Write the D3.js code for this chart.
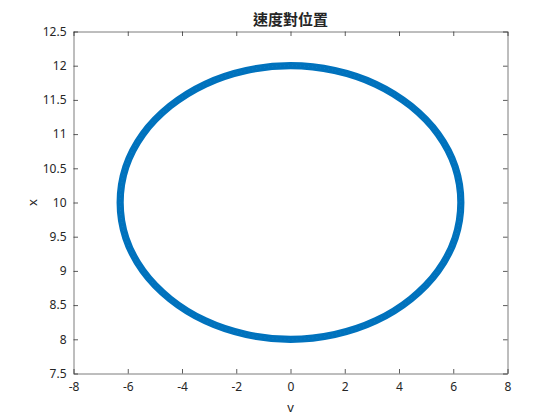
<!DOCTYPE html>
<html>
<head>
<meta charset="utf-8">
<script src="https://cdn.jsdelivr.net/npm/d3@7"></script>
<style>
  html, body { margin: 0; padding: 0; background: #ffffff; }
  svg { display: block; }
  text { font-family: "Noto Sans", "DejaVu Sans", sans-serif; fill: #262626; }
</style>
</head>
<body>
<script>
// Data: points around the closed phase-space orbit
const velocityV = [0, 1.63, 3.14, 4.44, 5.44, 6.07, 6.28, 6.07, 5.44, 4.44, 3.14, 1.63,
                   0, -1.63, -3.14, -4.44, -5.44, -6.07, -6.28, -6.07, -5.44, -4.44, -3.14, -1.63];
const positionX = [12, 11.93, 11.73, 11.41, 11.0, 10.52, 10, 9.48, 9.0, 8.59, 8.27, 8.07,
                   8, 8.07, 8.27, 8.59, 9.0, 9.48, 10, 10.52, 11.0, 11.41, 11.73, 11.93];
const xTicks = [-8, -6, -4, -2, 0, 2, 4, 6, 8];
const yTicks = [7.5, 8, 8.5, 9, 9.5, 10, 10.5, 11, 11.5, 12, 12.5];
const titleText = "速度對位置";
const xLabel = "v";
const yLabel = "x";

const W = 560, H = 420;
const mLeft = 73.5, mRight = 507.5, mTop = 31.5, mBottom = 373.5;

const svg = d3.select("body").append("svg").attr("width", W).attr("height", H);

const xs = d3.scaleLinear().domain([-8, 8]).range([mLeft, mRight]);
const ys = d3.scaleLinear().domain([7.5, 12.5]).range([mBottom, mTop]);

const pts = velocityV.map((v, i) => [v, positionX[i]]);

// orbit
const line = d3.line().x(d => xs(d[0])).y(d => ys(d[1])).curve(d3.curveCatmullRomClosed.alpha(0.5));
svg.append("path")
  .attr("d", line(pts))
  .attr("fill", "none")
  .attr("stroke", "#0072BD")
  .attr("stroke-width", 7.2);
svg.append("path")
  .attr("d", line(pts))
  .attr("fill", "none")
  .attr("stroke", "#ffffff")
  .attr("stroke-opacity", 0.12)
  .attr("stroke-width", 0.6)
  .attr("stroke-dasharray", "1 3");

const axisColor = "#262626";
const tickLen = 4.5;
const fmt = d => String(d);

// axes using d3 axis generators
const xAxisB = d3.axisBottom(xs).tickValues(xTicks).tickSizeInner(-tickLen).tickSizeOuter(0).tickPadding(9).tickFormat(fmt);
const xAxisT = d3.axisTop(xs).tickValues(xTicks).tickSizeInner(-tickLen).tickSizeOuter(0).tickFormat("");
const yAxisL = d3.axisLeft(ys).tickValues(yTicks).tickSizeInner(-tickLen).tickSizeOuter(0).tickPadding(7).tickFormat(fmt);
const yAxisR = d3.axisRight(ys).tickValues(yTicks).tickSizeInner(-tickLen).tickSizeOuter(0).tickFormat("");

function style(g) {
  g.selectAll("path.domain").attr("stroke", axisColor).attr("stroke-width", 1).attr("stroke-opacity", 0.6);
  g.selectAll(".tick line").attr("stroke", axisColor).attr("stroke-opacity", 0.75);
  g.selectAll(".tick text").style("font-family", "'Noto Sans', 'DejaVu Sans', sans-serif")
    .style("font-size", "12px").attr("fill", "#262626");
}

svg.append("g").attr("transform", `translate(0,${mBottom})`).call(xAxisB).call(style);
svg.append("g").attr("transform", `translate(0,${mTop})`).call(xAxisT).call(style);
svg.append("g").attr("transform", `translate(${mLeft},0)`).call(yAxisL).call(style);
svg.append("g").attr("transform", `translate(${mRight},0)`).call(yAxisR).call(style);

// labels
svg.append("text").attr("x", (mLeft + mRight) / 2).attr("y", 24.5)
  .attr("text-anchor", "middle")
  .style("font-family", "'Noto Sans CJK TC', 'Noto Sans CJK SC', sans-serif")
  .style("font-size", "15px").style("font-weight", "bold")
  .text(titleText);

svg.append("text").attr("x", (mLeft + mRight) / 2).attr("y", 412)
  .attr("text-anchor", "middle")
  .style("font-size", "13px").text(xLabel);

svg.append("text").attr("transform", `translate(32,${ys(10)}) rotate(-90)`)
  .attr("text-anchor", "middle").attr("dominant-baseline", "central")
  .style("font-size", "13px").text(yLabel);
</script>
</body>
</html>
